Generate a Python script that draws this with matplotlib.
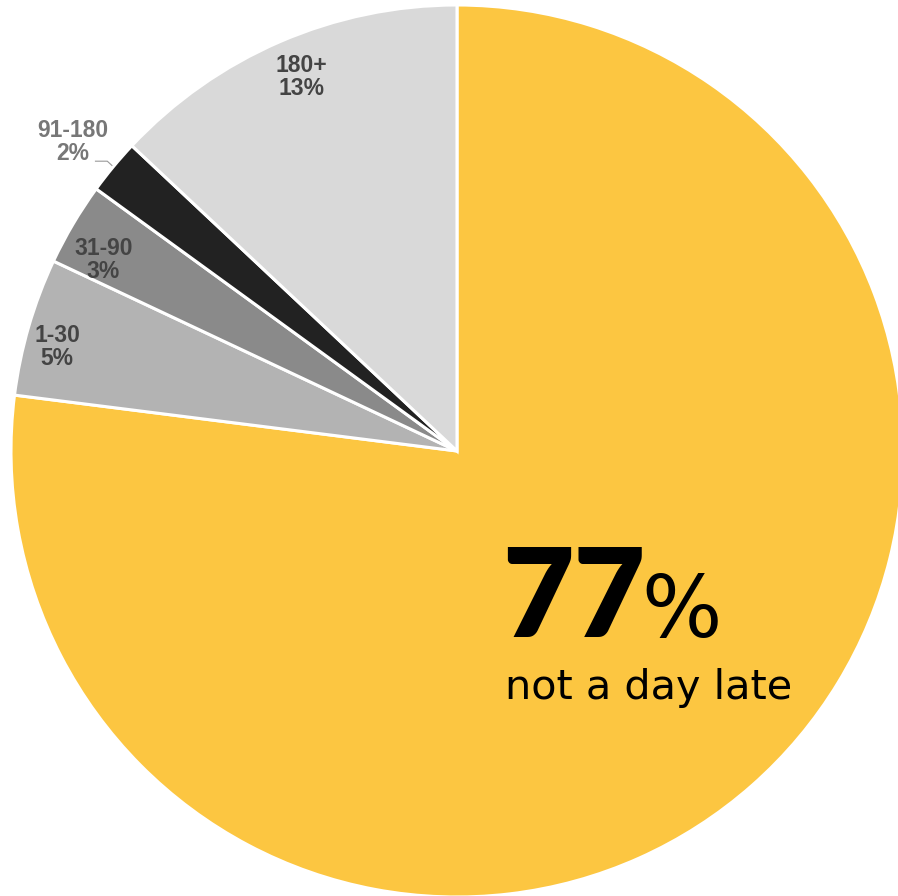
import numpy as np
import matplotlib
matplotlib.use("Agg")
import matplotlib.pyplot as plt

# Days-late buckets and their shares (%)
buckets = ["not a day late", "1-30", "31-90", "91-180", "180+"]
shares = [77, 5, 3, 2, 13]
colors = ["#FCC641", "#B3B3B3", "#8A8A8A", "#222222", "#D9D9D9"]
label_colors = [None, "#444444", "#444444", "#777777", "#444444"]

W, H = 898, 896
fig = plt.figure(figsize=(W / 100, H / 100), dpi=100)
ax = fig.add_axes([0, 0, 1, 1])

cx, cy, R = 457, H - 451, 446
wedges, _ = ax.pie(shares, colors=colors, startangle=90, counterclock=False,
                   center=(cx, cy), radius=R, frame=True,
                   wedgeprops=dict(edgecolor="white", linewidth=2.2))
ax.set_xlim(0, W)
ax.set_ylim(0, H)
ax.set_aspect("equal")
ax.axis("off")

lab_font = dict(family=["Liberation Sans", "DejaVu Sans"], fontweight="bold",
                fontsize=16.5, ha="center", va="center", linespacing=1.0)

# label placement: (radius as fraction of R, angular nudge in degrees)
placement = {1: (0.926, 1.6), 2: (0.901, 2.3), 3: (1.105, 0.8), 4: (0.908, -0.8)}

for i in range(1, len(shares)):
    w = wedges[i]
    mid = (w.theta1 + w.theta2) / 2
    rf, nudge = placement[i]
    a = np.deg2rad(mid + nudge)
    x, y = cx + rf * R * np.cos(a), cy + rf * R * np.sin(a)
    ax.text(x, y, f"{buckets[i]}\n{shares[i]}%", color=label_colors[i], **lab_font)
    if rf > 1:
        # outside label gets a thin leader line to its slice
        ex, ey = cx + 1.003 * R * np.cos(np.deg2rad(mid)), cy + 1.003 * R * np.sin(np.deg2rad(mid))
        ax.plot([x + 22, ex - 5, ex], [y - 19, y - 19, ey], color="#999999",
                lw=0.8, solid_capstyle="butt")

# Headline for the main slice
ax.text(502, H - 637, f"{shares[0]}", family=["Lato", "DejaVu Sans"],
        fontweight="heavy", fontsize=89, color="black", ha="left", va="baseline")
ax.text(641, H - 637, "%", family=["DejaVu Sans"],
        fontweight="normal", fontsize=61, color="black", ha="left", va="baseline")
ax.text(505, H - 699, buckets[0], family=["DejaVu Sans"],
        fontsize=29.8, color="black", ha="left", va="baseline")

fig.savefig("out.png", dpi=100, facecolor="white")
